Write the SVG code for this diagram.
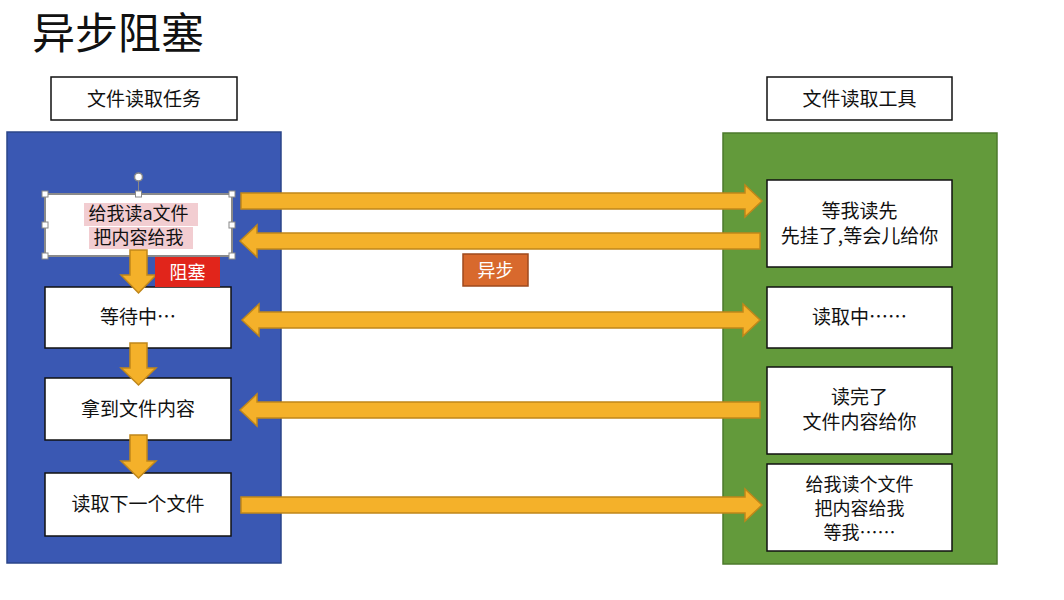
<svg xmlns="http://www.w3.org/2000/svg" width="1064" height="600" viewBox="0 0 1064 600">
<style>
  text { font-family: "Noto Sans CJK SC", "Noto Sans", sans-serif; fill: #111; }
  .t { font-size: 19px; text-anchor: middle; }
  .s { font-size: 18px; }
  .box { fill: #fff; stroke: #111; stroke-width: 1.5; }
  .arrow { fill: #f4b12a; stroke: #c0871a; stroke-width: 1.5; stroke-linejoin: miter; }
  .handle { fill: #fff; stroke: #888; stroke-width: 1; }
  .lbl { font-size: 18px; text-anchor: middle; fill: #fff; }
</style>
<rect width="1064" height="600" fill="#fff"/>
<text id="title" x="32" y="49" style="font-size:43px">异步阻塞</text>

<g id="panel-left"><rect x="7" y="132" width="274" height="431" fill="#3a58b3" stroke="#2b4589" stroke-width="1.5"/></g>
<g id="panel-right"><rect x="723" y="133" width="274" height="431" fill="#639a3b" stroke="#4c7a2c" stroke-width="1.5"/></g>

<g id="head-left"><rect x="51" y="77" width="186" height="43" class="box"/><text x="144" y="106" class="t">文件读取任务</text></g>
<g id="head-right"><rect x="767" y="77" width="185" height="43" class="box"/><text x="859.5" y="106" class="t">文件读取工具</text></g>

<g id="L1">
  <rect x="45" y="194" width="187" height="62" fill="#fff" stroke="#8a8a8a" stroke-width="2"/>
  <rect x="84" y="203" width="114" height="23" fill="#f2cdd1"/>
  <rect x="89" y="227" width="104" height="22" fill="#f2cdd1"/>
  <text x="138.5" y="220" class="t s">给我读a文件</text>
  <text x="138.5" y="244" class="t s">把内容给我</text>
  <line x1="138.5" y1="181" x2="138.5" y2="194" stroke="#888" stroke-width="1"/>
  <circle cx="138.5" cy="177" r="4" fill="#fff" stroke="#888" stroke-width="1.5"/>
  <rect x="42" y="191" width="6" height="6" class="handle"/>
  <rect x="135.5" y="191" width="6" height="6" class="handle"/>
  <rect x="229" y="191" width="6" height="6" class="handle"/>
  <rect x="42" y="222" width="6" height="6" class="handle"/>
  <rect x="229" y="222" width="6" height="6" class="handle"/>
  <rect x="42" y="253" width="6" height="6" class="handle"/>
  <rect x="229" y="253" width="6" height="6" class="handle"/>
</g>
<g id="L2"><rect x="45" y="287" width="186" height="61" class="box"/><text x="138" y="324" class="t">等待中…</text></g>
<g id="L3"><rect x="45" y="378" width="186" height="62" class="box"/><text x="138" y="416" class="t">拿到文件内容</text></g>
<g id="L4"><rect x="45" y="473" width="186" height="63" class="box"/><text x="138" y="511" class="t">读取下一个文件</text></g>

<g id="R1"><rect x="767" y="180" width="185" height="87" class="box"/><text x="859.5" y="218" class="t">等我读先</text><text x="859.5" y="243" class="t">先挂了,等会儿给你</text></g>
<g id="R2"><rect x="767" y="287" width="185" height="61" class="box"/><text x="859.5" y="324" class="t">读取中……</text></g>
<g id="R3"><rect x="767" y="367" width="185" height="87" class="box"/><text x="859.5" y="404" class="t">读完了</text><text x="859.5" y="429" class="t">文件内容给你</text></g>
<g id="R4"><rect x="767" y="464" width="185" height="87" class="box"/><text x="859.5" y="491" class="t s">给我读个文件</text><text x="859.5" y="515" class="t s">把内容给我</text><text x="859.5" y="539" class="t s">等我……</text></g>

<g id="connectors">
  <polygon class="arrow" points="241,193 745,193 745,185 762,201 745,217 745,209 241,209"/>
  <polygon class="arrow" points="760,233 257,233 257,225 240,241 257,257 257,249 760,249"/>
  <polygon class="arrow" points="242,320 259,304 259,312 743,312 743,304 760,320 743,336 743,328 259,328 259,336"/>
  <polygon class="arrow" points="760,402 257,402 257,394 240,410 257,426 257,418 760,418"/>
  <polygon class="arrow" points="241,497 745,497 745,489 762,505 745,521 745,513 241,513"/>
  <polygon class="arrow" points="130,250 147,250 147,275 156,275 138.5,293 121,275 130,275"/>
  <polygon class="arrow" points="130,343 147,343 147,368 156,368 138.5,385 121,368 130,368"/>
  <polygon class="arrow" points="130,435 147,435 147,461 156,461 138.5,478 121,461 130,461"/>
</g>

<g id="label-block"><rect x="155" y="257" width="65" height="30" fill="#e1251b"/><text x="187.5" y="279" class="lbl">阻塞</text></g>
<g id="label-async"><rect x="463" y="254" width="65" height="32" fill="#d8692d" stroke="#9e4a1e" stroke-width="1.5"/><text x="495.5" y="277" class="lbl">异步</text></g>
</svg>
